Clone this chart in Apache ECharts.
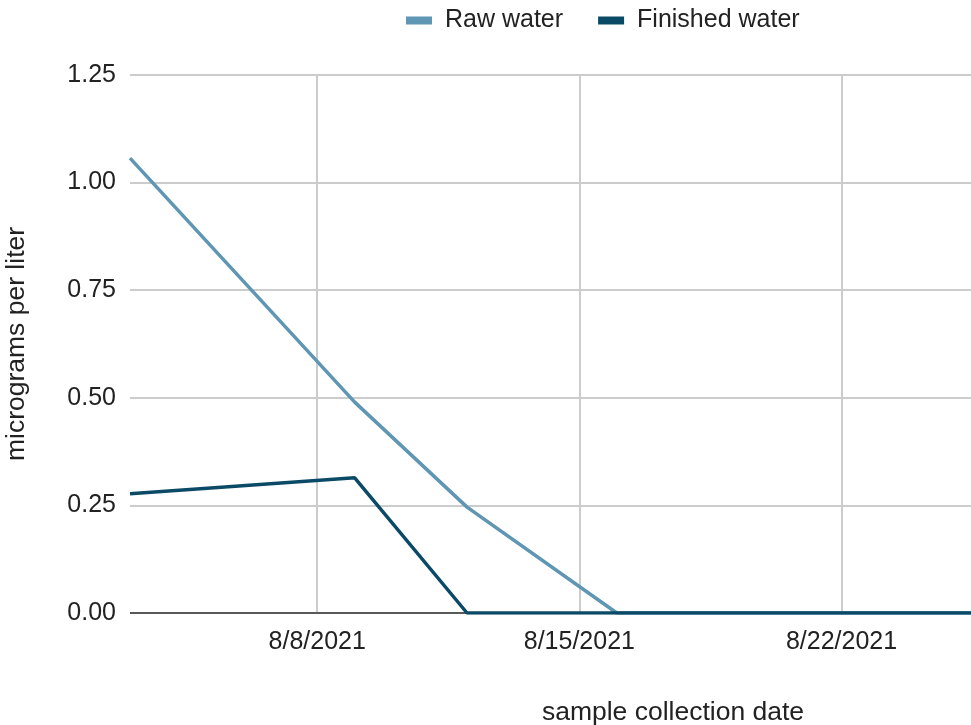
<!DOCTYPE html>
<html>
<head>
<meta charset="utf-8">
<script src="https://cdn.jsdelivr.net/npm/echarts@6/dist/echarts.min.js"></script>
<style>
  html, body { margin: 0; padding: 0; background: #fff; }
  #chart { width: 971px; height: 725px; }
</style>
</head>
<body>
<div id="chart"></div>
<script>
// sample dates and values (micrograms per liter)
const dates = ['2021-08-03', '2021-08-09', '2021-08-12', '2021-08-16', '2021-09-01'];
const rawWater = [1.057, 0.49, 0.246, 0, 0];
const finishedWater = [0.277, 0.314, 0, 0, 0];
const dateTicks = ['2021-08-08', '2021-08-15', '2021-08-22', '2021-08-29'];

function ts(d) {
  const p = d.split('-');
  return new Date(+p[0], +p[1] - 1, +p[2]).getTime();
}

var chartDom = document.getElementById('chart');
var myChart = echarts.init(chartDom);
var font = 'Liberation Sans, Arial, sans-serif';
var fs = 25;
var nameFs = 26.5;
var option = {
  animation: false,
  textStyle: { fontFamily: font },
  legend: {
    top: 3,
    left: 401,
    itemWidth: 26,
    itemHeight: 8,
    itemGap: 35,
    icon: 'rect',
    textStyle: { fontSize: fs, color: '#222', fontFamily: font, padding: [0, 0, 0, 8] },
    data: ['Raw water', 'Finished water'],
  },
  grid: {
    left: 130,
    width: 1086,
    top: 75,
    bottom: 112,
    outerBoundsMode: 'none',
    containLabel: false,
  },
  xAxis: {
    type: 'value',
    min: ts('2021-08-03'),
    max: ts('2021-09-01'),
    name: 'sample collection date',
    nameLocation: 'middle',
    nameGap: 86,
    nameTextStyle: { fontSize: nameFs, color: '#222', fontFamily: font },
    axisLine: { show: false },
    axisTick: { show: false, customValues: dateTicks.map(ts) },
    axisLabel: {
      customValues: dateTicks.map(ts),
      fontSize: fs,
      color: '#222',
      margin: 17,
      formatter: function (v) {
        const d = new Date(v);
        return (d.getMonth() + 1) + '/' + d.getDate() + '/' + d.getFullYear();
      },
    },
    splitLine: { show: true, lineStyle: { color: '#cccccc', width: 2 } },
  },
  yAxis: {
    type: 'value',
    min: 0,
    max: 1.25,
    interval: 0.25,
    name: 'micrograms per liter',
    nameLocation: 'middle',
    nameGap: 100,
    nameTextStyle: { fontSize: nameFs, color: '#222', fontFamily: font },
    axisLine: { show: false },
    axisTick: { show: false },
    axisLabel: {
      fontSize: fs,
      color: '#222',
      margin: 14,
      formatter: function (v) { return v.toFixed(2); },
    },
    splitLine: { lineStyle: { color: '#cccccc', width: 2 } },
  },
  series: [
    {
      name: 'Raw water',
      type: 'line',
      symbol: 'none',
      color: '#5f96b3',
      lineStyle: { width: 3.5 },
      data: dates.map((d, i) => [ts(d), rawWater[i]]),
      markLine: {
        silent: true,
        symbol: 'none',
        label: { show: false },
        lineStyle: { color: '#333', width: 1.5, type: 'solid' },
        data: [{ yAxis: 0 }],
        z: 1,
      },
    },
    {
      name: 'Finished water',
      type: 'line',
      symbol: 'none',
      color: '#0b4a66',
      lineStyle: { width: 3.5 },
      data: dates.map((d, i) => [ts(d), finishedWater[i]]),
    },
  ],
};
option && myChart.setOption(option);
</script>
</body>
</html>
